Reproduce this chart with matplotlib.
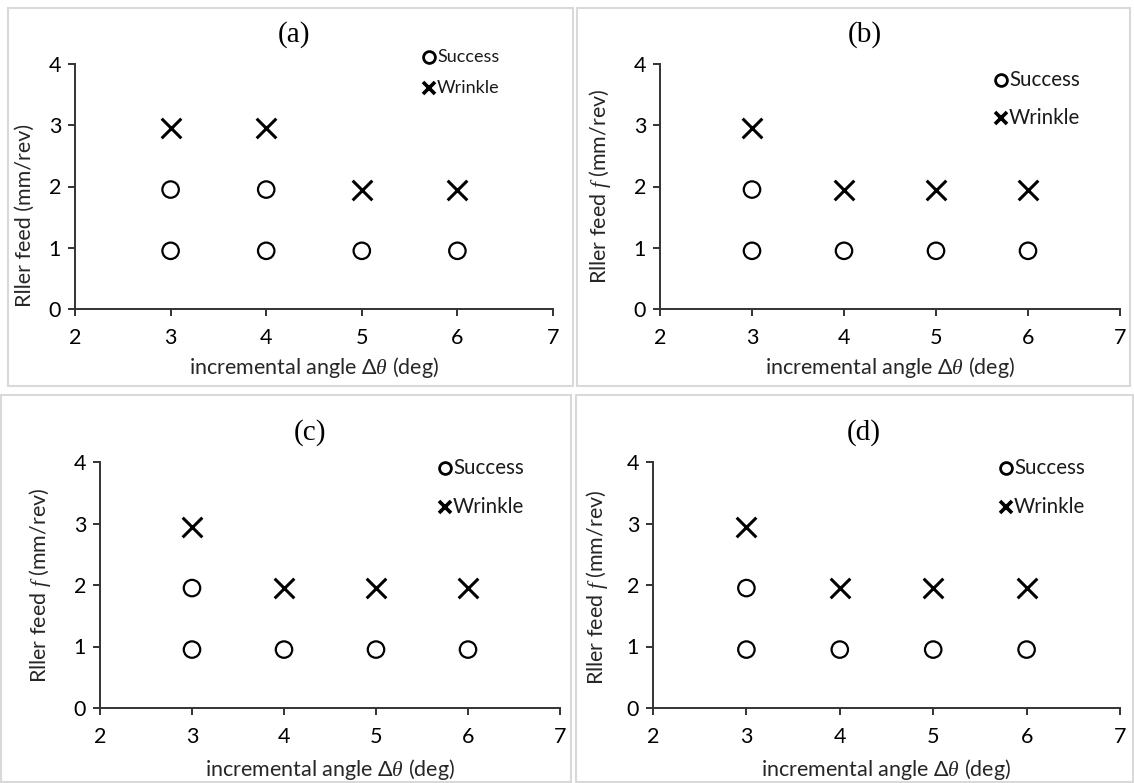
import matplotlib.pyplot as plt
from matplotlib.patches import Rectangle
from matplotlib.lines import Line2D

plt.rcParams['font.family'] = ['Lato', 'DejaVu Sans']
plt.rcParams['mathtext.fontset'] = 'custom'
plt.rcParams['mathtext.it'] = 'Liberation Serif:italic'
plt.rcParams['mathtext.rm'] = 'Lato'

# data
panel_names = ['(a)', '(b)', '(c)', '(d)']
success_x = [
    [3, 4, 5, 6, 3, 4],
    [3, 4, 5, 6, 3],
    [3, 4, 5, 6, 3],
    [3, 4, 5, 6, 3],
]
success_y = [
    [0.95, 0.95, 0.95, 0.95, 1.95, 1.95],
    [0.95, 0.95, 0.95, 0.95, 1.95],
    [0.95, 0.95, 0.95, 0.95, 1.95],
    [0.95, 0.95, 0.95, 0.95, 1.95],
]
wrinkle_x = [
    [3, 4, 5, 6],
    [3, 4, 5, 6],
    [3, 4, 5, 6],
    [3, 4, 5, 6],
]
wrinkle_y = [
    [2.95, 2.95, 1.95, 1.95],
    [2.95, 1.95, 1.95, 1.95],
    [2.95, 1.95, 1.95, 1.95],
    [2.95, 1.95, 1.95, 1.95],
]
ylabels = ['Rller feed (mm/rev)',
           'Rller feed $f$ (mm/rev)',
           'Rller feed $f$ (mm/rev)',
           'Rller feed $f$ (mm/rev)']
xlabel = 'incremental angle Δ$\\theta$ (deg)'

W, H = 1134, 783
fig = plt.figure(figsize=(W / 100, H / 100), dpi=100)

# layout in pixels
axes_px = [(75, 553, 64, 309), (660, 1120, 64, 309), (100, 560, 462, 708), (653, 1120, 462, 708)]
border_px = [(8, 573, 8, 386), (577, 1130, 8, 386), (1, 571, 395, 782), (576, 1133, 395, 782)]
title_px = [(294, 35), (865, 35), (310, 433), (864, 433)]
ylab_px = [(25, 215), (600, 186), (40, 585), (597, 587)]
xlab_px = [(314, 368), (890, 368), (330, 770), (886, 770)]
leg_px = [(429, 57, 88), (1001, 80, 118), (445, 468, 507), (1006, 468, 507)]
leg_fs = [13, 14.8, 14.8, 14.8]

for b in border_px:
    fig.patches.append(Rectangle((b[0] / W, 1 - b[3] / H), (b[1] - b[0]) / W, (b[3] - b[2]) / H,
                                 transform=fig.transFigure, fill=False, edgecolor='#d9d9d9', lw=1.5))

for i in range(4):
    l, r, t, bt = axes_px[i]
    aw, ah = r - l, bt - t
    ax = fig.add_axes([l / W, 1 - bt / H, aw / W, ah / H])
    ax.scatter(success_x[i], success_y[i], s=140, facecolors='none', edgecolors='black', linewidths=1.6,
               clip_on=False)
    ax.scatter(wrinkle_x[i], wrinkle_y[i], s=200, marker='x', color='black', linewidths=2.2, clip_on=False)
    ax.set_xlim(2, 7)
    ax.set_ylim(0, 4)
    ax.set_xticks([2, 3, 4, 5, 6, 7])
    ax.set_yticks([0, 1, 2, 3, 4])
    ax.spines['top'].set_visible(False)
    ax.spines['right'].set_visible(False)
    for s in ['left', 'bottom']:
        ax.spines[s].set_linewidth(1.4)
        ax.spines[s].set_color('#333333')
    ax.tick_params(labelsize=15.5, length=5, width=1.4, color='#333333')
    ax.tick_params(axis='x', pad=9)
    ax.tick_params(axis='y', pad=5)

    ax.set_xlabel(xlabel, fontsize=15.5, color='#262626')
    ax.xaxis.label.set_va('center')
    ax.xaxis.set_label_coords((xlab_px[i][0] - l) / aw, (bt - xlab_px[i][1]) / ah)
    ax.set_ylabel(ylabels[i], fontsize=15.5, color='#262626')
    ax.yaxis.label.set_va('center')
    ax.yaxis.set_label_coords((ylab_px[i][0] - l) / aw, (bt - ylab_px[i][1]) / ah)

    # legend: marker + text rows
    lx, ly1, ly2 = leg_px[i]
    for (yy, lab, mk) in [(ly1, 'Success', 'o'), (ly2, 'Wrinkle', 'x')]:
        fx, fy = lx / W, 1 - yy / H
        if mk == 'o':
            fig.lines.append(Line2D([fx], [fy], transform=fig.transFigure, ls='none', marker='o',
                                    mfc='none', mec='black', mew=2.0, ms=8.5))
        else:
            fig.lines.append(Line2D([fx], [fy], transform=fig.transFigure, ls='none', marker='x',
                                    color='black', mew=2.6, ms=8.5))
        fig.text((lx + 8) / W, fy, lab, ha='left', va='center', fontsize=leg_fs[i], color='#1a1a1a')

    fig.text(title_px[i][0] / W, 1 - title_px[i][1] / H, panel_names[i], ha='center', va='center',
             fontsize=21, family='Liberation Serif')

fig.savefig('out.png', dpi=100)
